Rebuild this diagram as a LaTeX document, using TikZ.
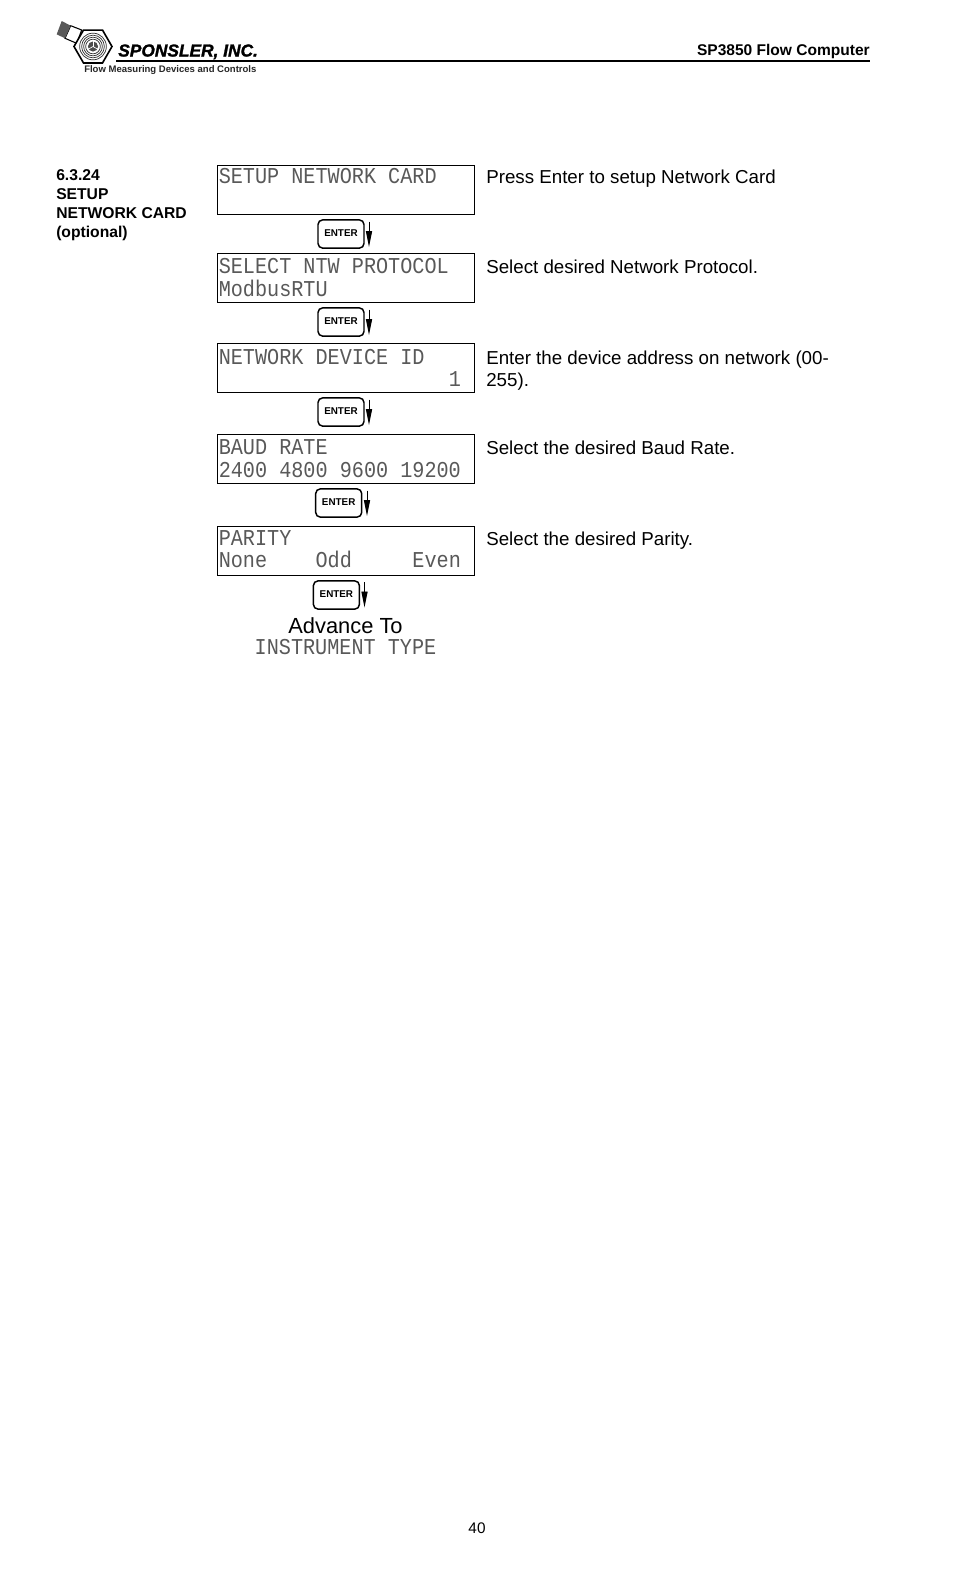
\documentclass[tikz,border=0pt]{standalone}
\usepackage{fontspec}
\setmainfont{Liberation Sans}
\newfontfamily\lcdfont[FakeStretch=0.89]{Liberation Mono}
\newfontfamily\logofont[FakeBold=1.5]{Liberation Sans}
\usetikzlibrary{arrows.meta,shapes.geometric}
\definecolor{lcdink}{gray}{0.35}
\tikzset{
  x=0.75pt,y=-0.75pt,
  lcdbox/.style={draw=black,line width=0.8pt,minimum width=192.6pt,minimum height=36.8pt,inner sep=0pt,anchor=north west},
  lcd/.style={font=\lcdfont\fontsize{17pt}{20pt}\selectfont,text=lcdink,anchor=base west,inner sep=0pt},
  enterkey/.style={draw=black,line width=1.1pt,rounded corners=3.5pt,minimum width=34.5pt,minimum height=21.2pt,inner sep=0pt,font=\bfseries\fontsize{7.4pt}{9pt}\selectfont},
  enterlabel/.style={font=\bfseries\fontsize{7.4pt}{9pt}\selectfont},
  downarrow/.style={draw=black,line width=0.7pt,-{Triangle[length=12pt,width=4.6pt]}},
  body/.style={font=\fontsize{14.05pt}{16.5pt}\selectfont,anchor=base west,inner sep=0pt},
  side/.style={font=\bfseries\fontsize{11.75pt}{14pt}\selectfont,anchor=base west,inner sep=0pt},
}
\begin{document}
\begin{tikzpicture}
\useasboundingbox (0,0) rectangle (954,1572);
\fill[white] (0,0) rectangle (954,1572);

% logo
\draw[line width=1.5pt] (116,60.8) -- (870,60.8);
\draw[black,line width=0.8pt,fill=white] (70.7,25.7) -- (81.7,30) -- (76.7,43.3) -- (65,38.3) -- cycle;
\fill[black!65] (61.7,21) -- (70.7,25.7) -- (65,38.3) -- (56.7,34.3) -- cycle;
\node[regular polygon,regular polygon sides=6,draw=black,line width=1.2pt,fill=white,minimum size=28.5pt,inner sep=0pt] (hex) at (93,46.5) {};
\foreach \r in {10,8.5,7,5.5}{\draw[black!80,line width=0.55pt] (hex.center) circle[radius=\r pt];}
\fill[black!70] (hex.center) circle[radius=3.8pt];
\foreach \a in {90,210,330}{\draw[white,line width=0.5pt] (hex.center) -- ++(\a:3.8pt);}
\node[font=\logofont\bfseries\itshape\fontsize{13pt}{15pt}\selectfont,anchor=base west,inner sep=0pt] (brand) at (118,56.5) {SPONSLER, INC.};
\node[font=\bfseries\fontsize{7.15pt}{8pt}\selectfont,anchor=base west,inner sep=0pt,text=black!85] (tag) at (84,72) {Flow Measuring Devices and Controls};
\node[font=\bfseries\fontsize{11.65pt}{14pt}\selectfont,anchor=base east,inner sep=0pt] (hdr) at (870,55) {SP3850 Flow Computer};

% side label
\node[side] (s1) at (56,180) {6.3.24};
\node[side] (s2) at (56,199) {SETUP};
\node[side] (s3) at (56,218) {NETWORK CARD};
\node[side] (s4) at (56,237) {(optional)};

% display boxes
\node[lcdbox] (b1) at (217.3,165.3) {};
\node[lcdbox] (b2) at (217.3,253) {};
\node[lcdbox] (b3) at (217.3,343) {};
\node[lcdbox] (b4) at (217.3,434) {};
\node[lcdbox] (b5) at (217.3,526) {};

\node[lcd] (l1a) at (218.5,183.5) {SETUP NETWORK CARD};
\node[lcd] (l2a) at (218.5,273.5) {SELECT NTW PROTOCOL};
\node[lcd] (l2b) at (218.5,296.5) {ModbusRTU};
\node[lcd] (l3a) at (218.5,364.5) {NETWORK DEVICE ID};
\node[lcd] (l3b) at (448.5,386) {1};
\node[lcd] (l4a) at (218.5,454.5) {BAUD RATE};
\node[lcd] (l4b) at (218.5,477) {2400 4800 9600 19200};
\node[lcd] (l5a) at (218.5,545) {PARITY};
\node[lcd] (l5b) at (218.5,567.5) {None~~~~Odd~~~~~Even};

% descriptions
\node[body] (d1) at (486,183.5) {Press Enter to setup Network Card};
\node[body] (d2) at (486,273.5) {Select desired Network Protocol.};
\node[body] (d3a) at (486,364) {Enter the device address on network (00-};
\node[body] (d3b) at (486,386) {255).};
\node[body] (d4) at (486,454.5) {Select the desired Baud Rate.};
\node[body] (d5) at (486,545) {Select the desired Parity.};

% enter keys and arrows
\node[enterkey,text height=5.2pt,text depth=0.8pt] (k1) at (341,234) {ENTER};
\node[enterkey,text height=5.2pt,text depth=0.8pt] (k2) at (341,322) {ENTER};
\node[enterkey,text height=5.2pt,text depth=0.8pt] (k3) at (341,412) {ENTER};
\node[enterkey,text height=5.2pt,text depth=0.8pt] (k4) at (338.7,503) {ENTER};
\node[enterkey,text height=5.2pt,text depth=0.8pt] (k5) at (336.4,595) {ENTER};
\coordinate (a1s) at (369,221.5); \coordinate (a1e) at (369,247);
\coordinate (a2s) at (369,309.5); \coordinate (a2e) at (369,335);
\coordinate (a3s) at (369,399.5); \coordinate (a3e) at (369,425);
\coordinate (a4s) at (367,490.5); \coordinate (a4e) at (367,516);
\coordinate (a5s) at (364.5,582); \coordinate (a5e) at (364.5,607.5);
\draw[downarrow] (a1s) -- (a1e);
\draw[downarrow] (a2s) -- (a2e);
\draw[downarrow] (a3s) -- (a3e);
\draw[downarrow] (a4s) -- (a4e);
\draw[downarrow] (a5s) -- (a5e);

% advance
\node[font=\fontsize{16.4pt}{19pt}\selectfont,anchor=base,inner sep=0pt] (adv) at (345.5,633) {Advance To};
\node[lcd,anchor=base] (inst) at (345.5,654.5) {INSTRUMENT TYPE};

% page number
\node[font=\fontsize{11.5pt}{14pt}\selectfont,anchor=base,inner sep=0pt] (pg) at (477,1533) {40};
\end{tikzpicture}
\end{document}
